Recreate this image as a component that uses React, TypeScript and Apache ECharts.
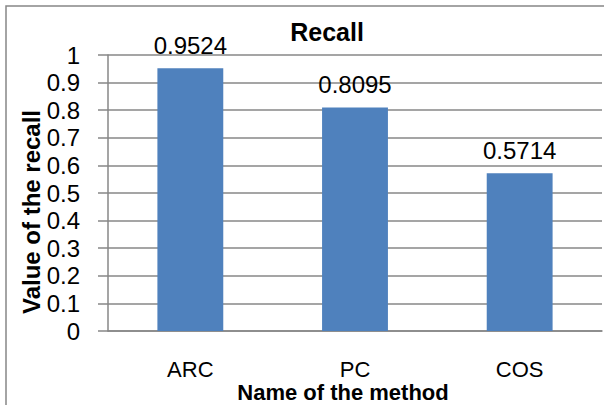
import React, { useEffect, useRef } from "react";
import * as echarts from "echarts";

const categories = ["ARC", "PC", "COS"];
const recallValues = [0.9524, 0.8095, 0.5714];
const yTicks = [0, 0.1, 0.2, 0.3, 0.4, 0.5, 0.6, 0.7, 0.8, 0.9, 1];
const titleText = "Recall";
const xAxisName = "Name of the method";
const yAxisName = "Value of the recall";

const FONT = "'Liberation Sans', Arial, sans-serif";
const GRID_COLOR = "#878787";

export default function App() {
  const ref = useRef<HTMLDivElement>(null);
  useEffect(() => {
    if (!ref.current) return;
    const chart = echarts.init(ref.current, null, { renderer: "svg" });
    chart.setOption({
      animation: false,
      backgroundColor: "#ffffff",
      title: {
        text: titleText,
        left: 322,
        top: 14,
        textAlign: "center",
        textStyle: { fontFamily: FONT, fontWeight: "bold", fontSize: 25, color: "#000", lineHeight: 26 },
      },
      grid: { left: 108, top: 55, right: 2, bottom: 74, containLabel: false },
      xAxis: {
        type: "category",
        data: categories,
        axisLine: { show: true, lineStyle: { color: GRID_COLOR, width: 1.5 } },
        axisTick: { show: false },
        axisLabel: {
          margin: 27,
          fontFamily: FONT,
          fontSize: 22,
          lineHeight: 22,
          color: "#000",
        },
      },
      yAxis: {
        type: "value",
        min: 0,
        max: 1,
        interval: 0.1,
        axisLine: { show: true, lineStyle: { color: GRID_COLOR, width: 1.5 } },
        axisTick: { show: true, length: 10, lineStyle: { color: GRID_COLOR, width: 1.5 } },
        splitLine: { show: true, lineStyle: { color: GRID_COLOR, width: 1.5 } },
        axisLabel: {
          margin: 28,
          fontFamily: FONT,
          fontSize: 24,
          color: "#000",
          padding: [6, 0, 0, 0],
          formatter: (v: number) => {
            const match = yTicks.find((t) => Math.abs(t - v) < 1e-9);
            return String(match !== undefined ? match : v);
          },
        },
      },
      series: [
        {
          type: "bar",
          data: recallValues,
          barWidth: "40%",
          itemStyle: { color: "#4F81BD" },
          label: {
            show: true,
            position: "top",
            distance: 11,
            fontFamily: FONT,
            fontSize: 24,
            lineHeight: 24,
            color: "#000",
            formatter: (p: any) => String(p.value),
          },
        },
      ],
      graphic: [
        {
          type: "rect",
          shape: { x: 6, y: 6, width: 800, height: 600 },
          style: { fill: "none", stroke: GRID_COLOR, lineWidth: 1.5 },
          silent: true,
          z: 100,
        },
        {
          type: "text",
          x: 31,
          y: 212,
          rotation: Math.PI / 2,
          style: {
            text: yAxisName,
            font: `bold 24px ${FONT}`,
            fill: "#000",
            textAlign: "center",
            textVerticalAlign: "middle",
          },
          z: 100,
        },
        {
          type: "text",
          x: 343,
          y: 392,
          style: {
            text: xAxisName,
            font: `bold 22px ${FONT}`,
            lineHeight: 22,
            fill: "#000",
            textAlign: "center",
            textVerticalAlign: "middle",
          },
          z: 100,
        },
      ],
    });
    return () => chart.dispose();
  }, []);
  return (
    <div
      ref={ref}
      style={{ position: "fixed", left: 0, top: 0, width: 604, height: 405 }}
    />
  );
}
